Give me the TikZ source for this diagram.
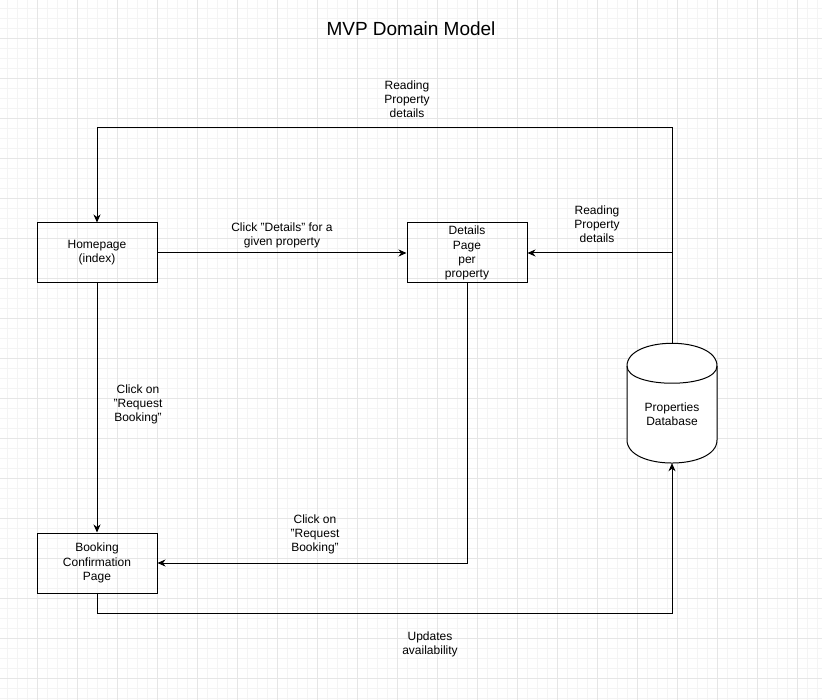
\documentclass[tikz,border=0pt]{standalone}
\usepackage{fontspec}
\setmainfont{Liberation Sans}
\usetikzlibrary{arrows.meta}
\definecolor{minorgrid}{RGB}{244,244,244}
\definecolor{majorgrid}{RGB}{230,230,230}
\tikzset{
  box/.style={draw, line width=1pt, minimum width=120pt, minimum height=60pt, inner sep=0pt, align=center, font=\fontsize{12}{14.2}\selectfont},
  lbl/.style={align=center, inner sep=0pt, font=\fontsize{12}{14}\selectfont},
  conn/.style={line width=1pt, -{Stealth[length=8pt,width=7pt,inset=2.5pt]}},
  plain/.style={line width=1pt},
}
\begin{document}
\begin{tikzpicture}[x=1pt,y=-1pt]
\useasboundingbox (0,0) rectangle (822,700);
\fill[white] (0,0) rectangle (822,700);
% grid
\foreach \x in {7,17,...,817} \draw[minorgrid, line width=0.8pt] (\x,0) -- (\x,700);
\foreach \y in {8,18,...,698} \draw[minorgrid, line width=0.8pt] (0,\y) -- (822,\y);
\foreach \x in {37,77,...,817} \draw[majorgrid, line width=0.8pt] (\x,0) -- (\x,700);
\foreach \y in {38,78,...,698} \draw[majorgrid, line width=0.8pt] (0,\y) -- (822,\y);

% title
\node[inner sep=0pt, font=\fontsize{19}{22}\selectfont] (title) at (411,29) {MVP Domain Model};

% nodes
\node[box] (home) at (97,253) {Homepage\\(index)};
\node[box] (det) at (467,253) {Details\\Page\\per\\property};
\node[box] (book) at (97,563) {Booking\\Confirmation\\Page};
\node[minimum width=90pt, minimum height=120pt, inner sep=0pt] (db) at (672,403) {};
% cylinder shape
\draw[line width=1pt, fill=white] (627,366) .. controls (627,335.7) and (717,335.7) .. (717,366)
  -- (717,440) .. controls (717,470.7) and (627,470.7) .. (627,440) -- cycle;
\draw[line width=1pt] (627,366) .. controls (627,389) and (717,389) .. (717,366);
\node[lbl] (dbtext) at (672,414) {Properties\\Database};

% helper coordinates
\coordinate (topy) at (0,128);
\coordinate (boty) at (0,613);

% connectors
\draw[conn] (db.north) -- (db.north |- topy) -| (home.north);
\draw[conn] (db.north |- det.east) -- (det.east);
\draw[conn] (home.east) -- (det.west);
\draw[conn] (home.south) -- (book.north);
\draw[conn] (det.south) |- (book.east);
\draw[conn] (book.south) -- (book.south |- boty) -| (db.south);

% labels
\node[lbl] (l1) at (407,99) {Reading\\Property\\details};
\node[lbl] (l2) at (597,224) {Reading\\Property\\details};
\node[lbl] (l3) at (282,235) {Click "Details" for a\\given property};
\node[lbl] (l4) at (138,404) {Click on\\"Request\\Booking"};
\node[lbl] (l5) at (315,534) {Click on\\"Request\\Booking"};
\node[lbl] (l6) at (430,644) {Updates\\availability};
\end{tikzpicture}
\end{document}
